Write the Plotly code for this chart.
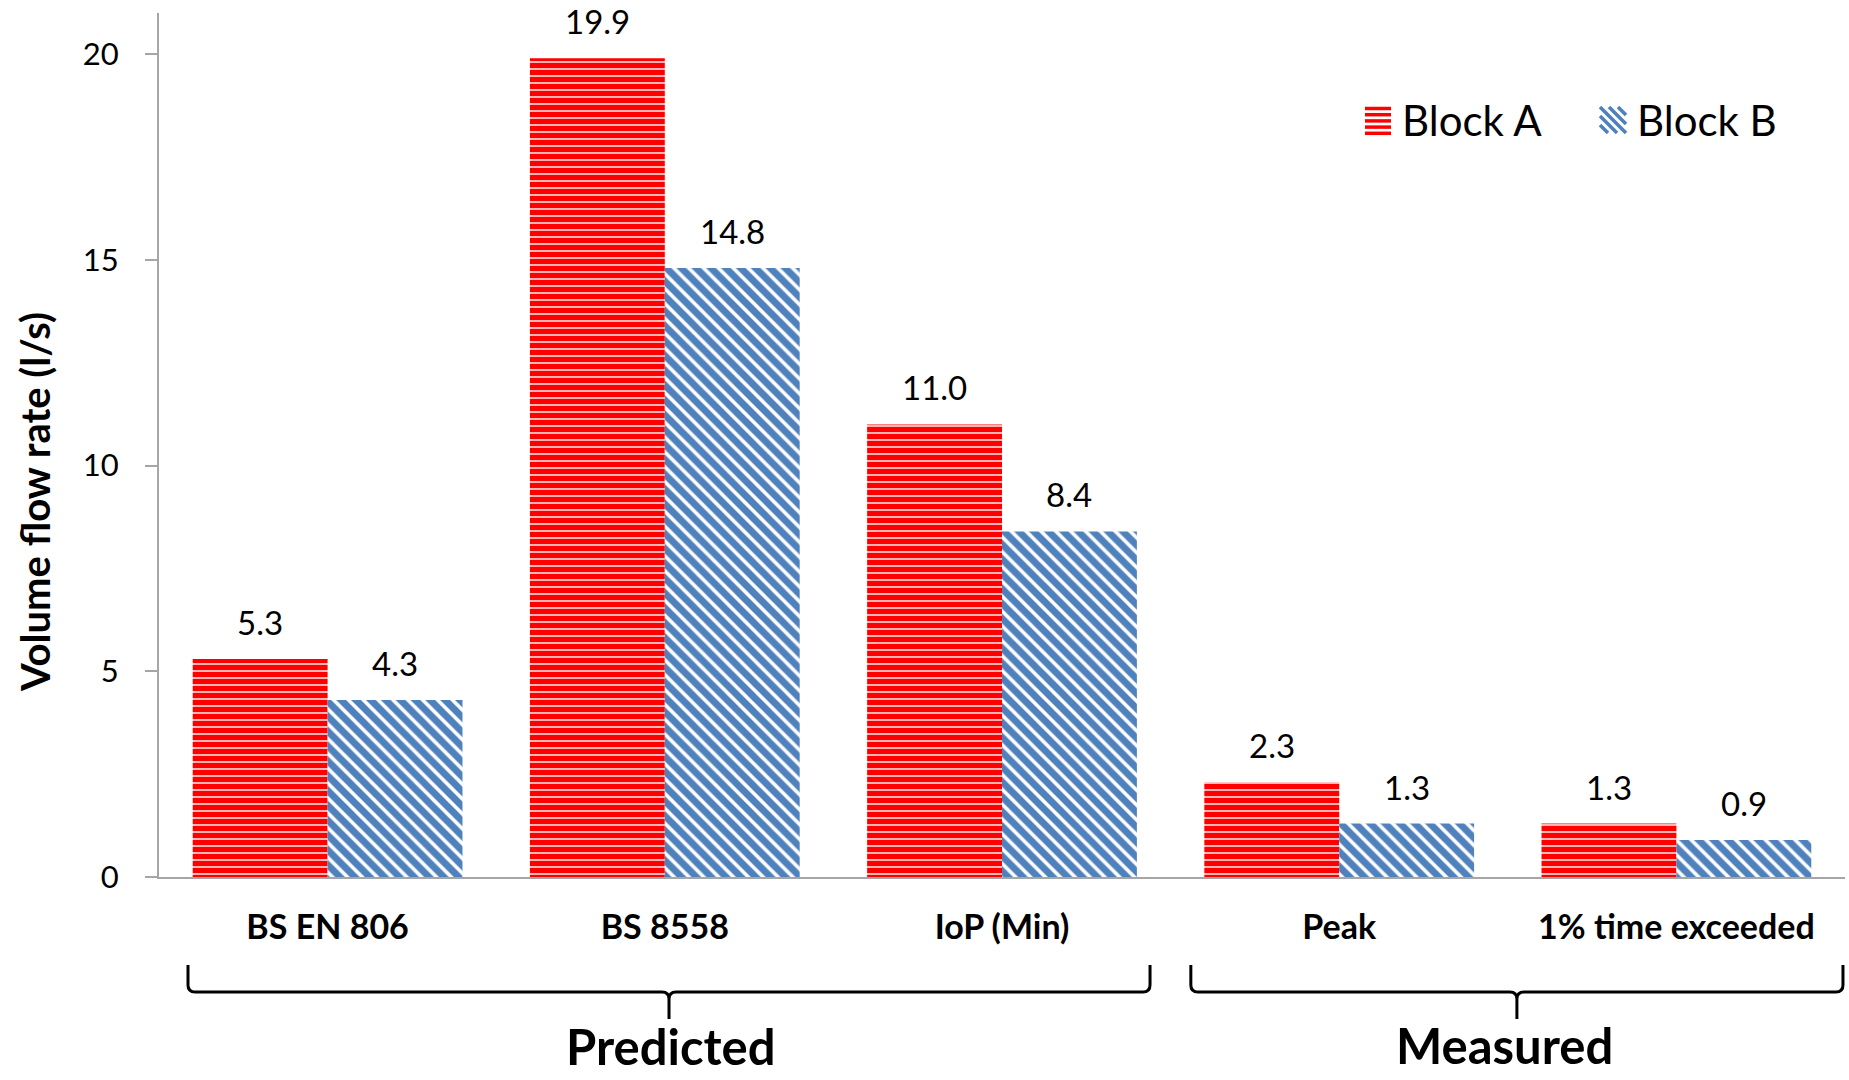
import plotly.graph_objects as go

# ---------------- data ----------------
categories = ["BS EN 806", "BS 8558", "IoP (Min)", "Peak", "1% time exceeded"]
block_a = [5.3, 19.9, 11.0, 2.3, 1.3]
block_b = [4.3, 14.8, 8.4, 1.3, 0.9]
series_names = ["Block A", "Block B"]
group_names = ["Predicted", "Measured"]
group_first = [0, 3]     # first category index of each group
group_last = [2, 4]      # last category index of each group
y_ticks = [0, 5, 10, 15, 20]
y_title = "Volume flow rate (l/s)"

# ---------------- styling ----------------
W, H = 1849, 1080
ML, MR, MT, MB = 159, 4, 13, 203
PW, PH = W - ML - MR, H - MT - MB
RED = "#FF0000"
BLUE = "#4F81BD"
AXIS_GREY = "#A6A6A6"
FONT = "Lato"
N = len(categories)


def px_x(px):
    return (px - ML) / PW


def px_y(py):
    return (H - MB - py) / PH


def idx_px(i):
    # pixel x of a (fractional) category index
    return ML + (i + 0.5) * PW / N


fig = go.Figure()
fig.add_trace(go.Bar(
    name=series_names[0], x=categories, y=block_a,
    marker=dict(color=RED, line=dict(width=0),
                pattern=dict(shape="-", fgcolor=RED, bgcolor="white",
                             size=7, solidity=0.8, fgopacity=1)),
    showlegend=False,
))
fig.add_trace(go.Bar(
    name=series_names[1], x=categories, y=block_b,
    marker=dict(color=BLUE, line=dict(width=0),
                pattern=dict(shape="\\", fgcolor=BLUE, bgcolor="white",
                             size=10.5, solidity=0.66, fgopacity=1)),
    showlegend=False,
))

annotations = []
shapes = []

# data labels above bars
for series, off in ((block_a, -0.2), (block_b, 0.2)):
    for i, v in enumerate(series):
        annotations.append(dict(
            x=i + off, y=v, xref="x", yref="y", text=f"{v:.1f}",
            showarrow=False, yshift=37, yanchor="middle", xanchor="center",
            font=dict(family=FONT, size=33, color="black")))

# y-axis title
annotations.append(dict(
    x=px_x(35), y=px_y(502), xref="paper", yref="paper", text=f"<b>{y_title}</b>",
    textangle=-90, showarrow=False, xanchor="center", yanchor="middle",
    font=dict(family=FONT, size=40, color="black")))

# group braces and labels
brace_pad_left = [0.414, 0.44]
brace_pad_right = [0.439, 0.494]
label_drop = [169, 168]
label_shift = [2, -12]
y_top, y_line, y_tip, r = 965, 992, 1019, 7
for g, name in enumerate(group_names):
    xl = idx_px(group_first[g] - brace_pad_left[g])
    xr = idx_px(group_last[g] + brace_pad_right[g])
    xc = (xl + xr) / 2
    pts = [
        ("M", xl, y_top), ("L", xl, y_line - r), ("Q", xl, y_line, xl + r, y_line),
        ("L", xc - r, y_line), ("Q", xc, y_line, xc, y_line + r), ("L", xc, y_tip),
        ("L", xc, y_line + r), ("Q", xc, y_line, xc + r, y_line),
        ("L", xr - r, y_line), ("Q", xr, y_line, xr, y_line - r), ("L", xr, y_top),
    ]
    path = ""
    for p in pts:
        cmd, coords = p[0], p[1:]
        conv = []
        for k in range(0, len(coords), 2):
            conv.append(f"{px_x(coords[k]):.5f},{px_y(coords[k + 1]):.5f}")
        path += cmd + " ".join(conv) + " "
    shapes.append(dict(type="path", path=path.strip(), xref="paper", yref="paper",
                       line=dict(color="black", width=3), fillcolor="rgba(0,0,0,0)"))
    annotations.append(dict(
        x=px_x(xc + label_shift[g]), y=px_y(H - MB + label_drop[g]), xref="paper", yref="paper",
        text=f"<b>{name}</b>", showarrow=False, xanchor="center", yanchor="middle",
        font=dict(family=FONT, size=49, color="black")))

# custom legend (large patterned swatches)
leg_x = [1365, 1600]
sw, sy0 = 26, 107
for k, name in enumerate(series_names):
    x0 = leg_x[k]
    if k == 0:
        for j in range(5):
            yy = sy0 + 1.5 + j * 6.2
            shapes.append(dict(type="line", xref="paper", yref="paper",
                               x0=px_x(x0), x1=px_x(x0 + sw), y0=px_y(yy), y1=px_y(yy),
                               line=dict(color=RED, width=3.5)))
    else:
        for d in (-18, -9, 0, 9, 18):
            ax = x0 + max(0, d)
            ay = sy0 + max(0, -d)
            bx = x0 + sw - max(0, -d)
            by = sy0 + sw - max(0, d)
            shapes.append(dict(type="line", xref="paper", yref="paper",
                               x0=px_x(ax), y0=px_y(ay), x1=px_x(bx), y1=px_y(by),
                               line=dict(color=BLUE, width=3.5)))
    annotations.append(dict(
        x=px_x(x0 + sw + 9), y=px_y(sy0 + 13), xref="paper", yref="paper",
        text=name, showarrow=False, xanchor="left", yanchor="middle",
        font=dict(family=FONT, size=42, color="black")))

fig.update_layout(
    width=W, height=H,
    margin=dict(l=ML, r=MR, t=MT, b=MB, autoexpand=False),
    paper_bgcolor="white", plot_bgcolor="white",
    barmode="group", bargap=0.2, bargroupgap=0,
    showlegend=False,
    font=dict(family=FONT, color="black"),
    annotations=annotations, shapes=shapes,
)
fig.update_xaxes(
    type="category", range=[-0.5, N - 0.5],
    showline=True, linecolor=AXIS_GREY, linewidth=2,
    ticks="", showgrid=False, zeroline=False,
    tickfont=dict(family=FONT, size=34, color="black", weight="bold"),
    ticklabelstandoff=19, automargin=False,
)
fig.update_yaxes(
    range=[0, 21], tickvals=y_ticks, ticktext=[str(t) for t in y_ticks],
    showline=True, linecolor=AXIS_GREY, linewidth=2,
    ticks="outside", ticklen=12, tickcolor=AXIS_GREY, tickwidth=2,
    showgrid=False, zeroline=False,
    tickfont=dict(family=FONT, size=31, color="black"),
    ticklabelstandoff=20, automargin=False,
)

fig.write_html(
    "out.html",
    config={"displayModeBar": False},
    post_script="document.body.style.margin='0';document.body.style.overflow='hidden';",
)
